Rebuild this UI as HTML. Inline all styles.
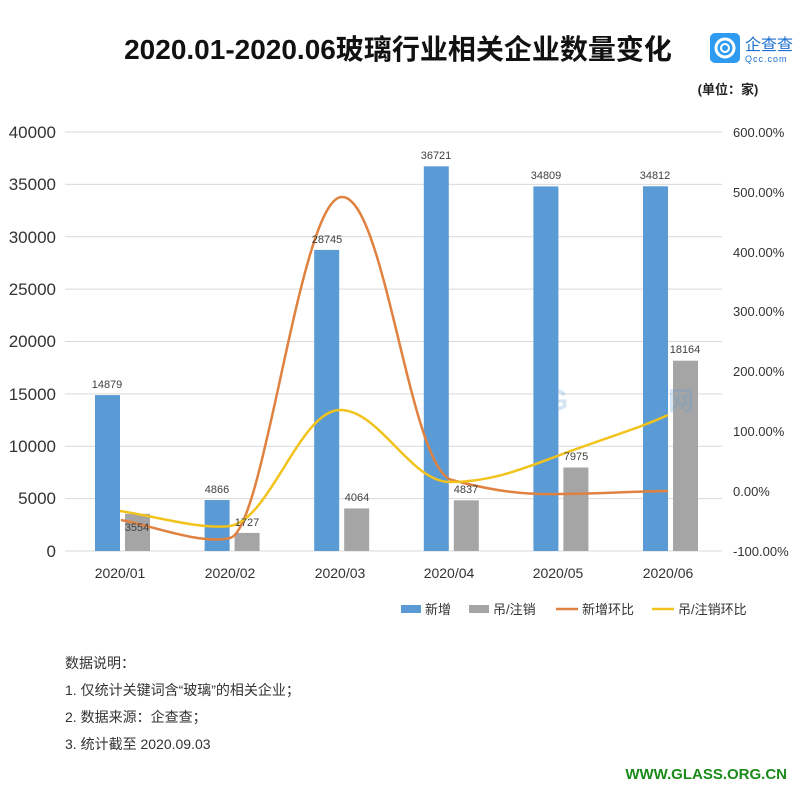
<!DOCTYPE html>
<html><head><meta charset="utf-8"><style>
body{margin:0;background:#fff;width:800px;height:794px;overflow:hidden;font-family:"Liberation Sans","Noto Sans CJK SC",sans-serif}
</style></head><body>
<svg width="800" height="794" xmlns="http://www.w3.org/2000/svg" font-family="Liberation Sans, Noto Sans CJK SC, sans-serif">
<text x="398" y="59" text-anchor="middle" font-size="28" font-weight="bold" fill="#111">2020.01-2020.06玻璃行业相关企业数量变化</text>
<rect x="710" y="33" width="30" height="30" rx="5" fill="#2f9bf0"/>
<circle cx="725" cy="48" r="9" fill="none" stroke="#fff" stroke-width="3"/>
<circle cx="725" cy="48" r="4" fill="none" stroke="#fff" stroke-width="2"/>
<text x="745" y="50" font-size="16" fill="#1c6fd0">企查查</text>
<text x="745" y="62" font-size="9" fill="#1c6fd0" letter-spacing="1">Qcc.com</text>
<text x="728" y="94" text-anchor="middle" font-size="13" font-weight="bold" fill="#222">(单位：家)</text>
<g stroke="#d9d9d9" stroke-width="1">
<line x1="65" y1="132" x2="722" y2="132"/><line x1="65" y1="184.4" x2="722" y2="184.4"/><line x1="65" y1="236.8" x2="722" y2="236.8"/><line x1="65" y1="289.1" x2="722" y2="289.1"/><line x1="65" y1="341.5" x2="722" y2="341.5"/><line x1="65" y1="393.9" x2="722" y2="393.9"/><line x1="65" y1="446.3" x2="722" y2="446.3"/><line x1="65" y1="498.6" x2="722" y2="498.6"/><line x1="65" y1="551" x2="722" y2="551"/>
</g>
<g font-size="17" fill="#333" text-anchor="end">
<text x="56" y="138">40000</text><text x="56" y="190">35000</text><text x="56" y="243">30000</text><text x="56" y="295">25000</text><text x="56" y="347">20000</text><text x="56" y="400">15000</text><text x="56" y="452">10000</text><text x="56" y="504">5000</text><text x="56" y="557">0</text>
</g>
<g font-size="13" fill="#333">
<text x="733" y="137">600.00%</text><text x="733" y="197">500.00%</text><text x="733" y="257">400.00%</text><text x="733" y="316">300.00%</text><text x="733" y="376">200.00%</text><text x="733" y="436">100.00%</text><text x="733" y="496">0.00%</text><text x="733" y="556">-100.00%</text>
</g>
<g fill="#5b9bd5">
<rect x="95" y="395.1" width="25" height="155.9"/>
<rect x="204.6" y="500" width="25" height="51"/>
<rect x="314.2" y="249.9" width="25" height="301.1"/>
<rect x="423.8" y="166.3" width="25" height="384.7"/>
<rect x="533.4" y="186.4" width="25" height="364.6"/>
<rect x="643" y="186.3" width="25" height="364.7"/>
</g>
<g fill="#a5a5a5">
<rect x="125" y="513.8" width="25" height="37.2"/>
<rect x="234.6" y="532.9" width="25" height="18.1"/>
<rect x="344.2" y="508.4" width="25" height="42.6"/>
<rect x="453.8" y="500.3" width="25" height="50.7"/>
<rect x="563.4" y="467.5" width="25" height="83.5"/>
<rect x="673" y="360.7" width="25" height="190.3"/>
</g>
<text x="545" y="410" font-size="30" font-weight="bold" fill="#5b9bd5" opacity="0.25">G</text>
<text x="668" y="410" font-size="26" font-weight="bold" fill="#5b9bd5" opacity="0.25">网</text>
<path d="M121,520 C150,525 200,545 230,538 C265,530 300,197 342,197 C385,197 410,470 452,480 C490,490 520,495 560,494 C600,494 640,491 668,491" fill="none" stroke="#e0813f" stroke-width="2.5"/>
<path d="M120,511 C150,515 200,530 230,526 C270,520 300,410 340,410 C380,410 410,482 450,482 C490,482 520,470 560,455 C600,440 640,428 668,415" fill="none" stroke="#f2c31c" stroke-width="2.5"/>
<g font-size="11" fill="#404040" text-anchor="middle">
<text x="107" y="388">14879</text><text x="217" y="493">4866</text><text x="327" y="243">28745</text><text x="436" y="159">36721</text><text x="546" y="179">34809</text><text x="655" y="179">34812</text>
<text x="137" y="531">3554</text><text x="247" y="526">1727</text><text x="357" y="501">4064</text><text x="466" y="493">4837</text><text x="576" y="460">7975</text><text x="685" y="353">18164</text>
</g>
<g font-size="14" fill="#333" text-anchor="middle">
<text x="120" y="578">2020/01</text><text x="230" y="578">2020/02</text><text x="340" y="578">2020/03</text><text x="449" y="578">2020/04</text><text x="558" y="578">2020/05</text><text x="668" y="578">2020/06</text>
</g>
<g font-size="13" fill="#333">
<rect x="401" y="605" width="20" height="8" fill="#5b9bd5"/><text x="425" y="614">新增</text>
<rect x="469" y="605" width="20" height="8" fill="#a5a5a5"/><text x="493" y="614">吊/注销</text>
<line x1="556" y1="609" x2="578" y2="609" stroke="#e0813f" stroke-width="2.5"/><text x="582" y="614">新增环比</text>
<line x1="652" y1="609" x2="674" y2="609" stroke="#f2c31c" stroke-width="2.5"/><text x="678" y="614">吊/注销环比</text>
</g>
<g font-size="14" fill="#333">
<text x="65" y="668">数据说明：</text>
<text x="65" y="695">1. 仅统计关键词含“玻璃”的相关企业；</text>
<text x="65" y="722">2. 数据来源：企查查；</text>
<text x="65" y="749">3. 统计截至 2020.09.03</text>
</g>
<text x="787" y="779" text-anchor="end" font-size="15" font-weight="bold" fill="#1a8a1a">WWW.GLASS.ORG.CN</text>
</svg>
</body></html>
